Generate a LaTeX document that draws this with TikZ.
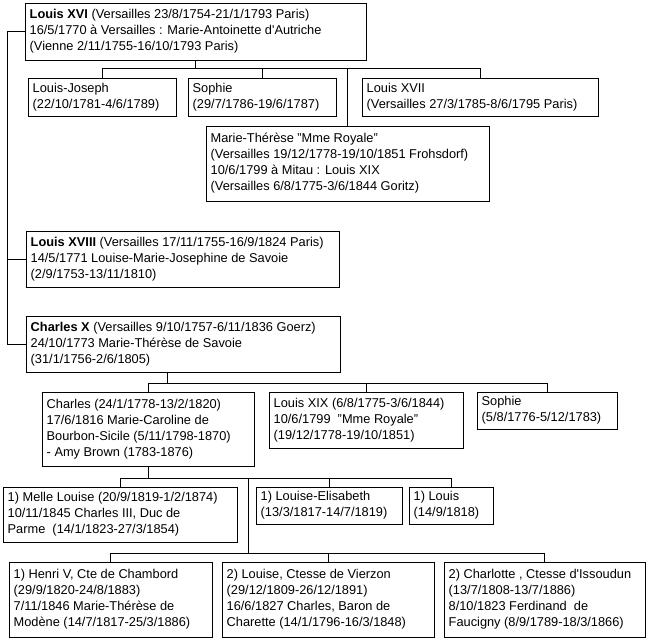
\documentclass[tikz,border=0pt]{standalone}
\usepackage{fontspec}
\setmainfont{Liberation Sans}
\newcommand\fambox[6]{%
  \node[pbox, anchor=north west, minimum width={(#4-#2)*1pt}, minimum height={(#5-#3)*1pt}] (#1) at (#2,#3) {};
  \node[ptext, anchor=west] (#1t) at ([xshift=4.5pt]#1.west) {#6};%
}
\begin{document}
\begin{tikzpicture}[x=1pt,y=-1pt,
  pbox/.style={draw, line width=1pt, rectangle, inner sep=0pt, outer sep=0pt},
  ptext/.style={inner sep=0pt, align=left, font=\fontsize{12.8}{16}\selectfont},
  conn/.style={line width=1pt}]
\path[fill=white, use as bounding box] (0,0) rectangle (650,640);

\fambox{L16}{25}{3}{366}{60}{\textbf{Louis XVI} (Versailles 23/8/1754-21/1/1793 Paris)\\16/5/1770 à Versailles : Marie-Antoinette d\textquotesingle Autriche\\(Vienne 2/11/1755-16/10/1793 Paris)}
\fambox{LJ}{28}{78}{176}{116}{Louis-Joseph\\(22/10/1781-4/6/1789)}
\fambox{SA}{188}{78}{336}{116}{Sophie\\(29/7/1786-19/6/1787)}
\fambox{L17}{362}{78}{598}{116}{Louis XVII\\(Versailles 27/3/1785-8/6/1795 Paris)}
\fambox{MT}{206}{126}{489}{201}{Marie-Thérèse "Mme Royale"\\(Versailles 19/12/1778-19/10/1851 Frohsdorf)\\10/6/1799 à Mitau : Louis XIX\\(Versailles 6/8/1775-3/6/1844 Goritz)}
\fambox{L18}{26}{231}{339}{287}{\textbf{Louis XVIII} (Versailles 17/11/1755-16/9/1824 Paris)\\14/5/1771 Louise-Marie-Josephine de Savoie\\(2/9/1753-13/11/1810)}
\fambox{C10}{26}{316}{340}{372}{\textbf{Charles X} (Versailles 9/10/1757-6/11/1836 Goerz)\\24/10/1773 Marie-Thérèse de Savoie\\(31/1/1756-2/6/1805)}
\fambox{CH}{42}{392}{254}{466}{Charles (24/1/1778-13/2/1820)\\17/6/1816 Marie-Caroline de\\Bourbon-Sicile (5/11/1798-1870)\\- Amy Brown (1783-1876)}
\fambox{L19}{269}{392}{463}{448}{Louis XIX (6/8/1775-3/6/1844)\\10/6/1799\ \ "Mme Royale"\\(19/12/1778-19/10/1851)}
\fambox{SB}{477}{392}{617}{429}{Sophie\\(5/8/1776-5/12/1783)}
\fambox{ML}{3}{487}{237}{542}{1) Melle Louise (20/9/1819-1/2/1874)\\10/11/1845 Charles III, Duc de\\Parme\ \ (14/1/1823-27/3/1854)}
\fambox{LE}{256}{487}{402}{524}{1) Louise-Elisabeth\\(13/3/1817-14/7/1819)}
\fambox{LO}{409}{487}{493}{524}{1) Louis\\(14/9/1818)}
\fambox{H5}{9}{562}{212}{637}{1) Henri V, Cte de Chambord\\(29/9/1820-24/8/1883)\\7/11/1846 Marie-Thérèse de\\Modène (14/7/1817-25/3/1886)}
\fambox{LV}{222}{562}{434}{637}{2) Louise, Ctesse de Vierzon\\(29/12/1809-26/12/1891)\\16/6/1827 Charles, Baron de\\Charette (14/1/1796-16/3/1848)}
\fambox{CI}{444}{562}{645}{637}{2) Charlotte , Ctesse d\textquotesingle Issoudun\\(13/7/1808-13/7/1886)\\8/10/1823 Ferdinand\ \ de\\Faucigny (8/9/1789-18/3/1866)}

% spine on the left
\coordinate (spine) at (7,0);
\draw[conn] (L16.west) -- (L16.west -| spine) -- (spine |- C10.west) -- (C10.west);
\draw[conn] (L18.west) -- (L18.west -| spine);

% children of Louis XVI
\coordinate (b1) at (0,68);
\draw[conn] (L16.south) -- (L16.south |- b1);
\draw[conn] (LJ.north) -- (LJ.north |- b1) -- (L17.north |- b1) -- (L17.north);
\draw[conn] (SA.north) -- (SA.north |- b1);
\draw[conn] (MT.north) -- (MT.north |- b1);

% children of Charles X
\coordinate (c10x) at (167,0);
\coordinate (b2) at (0,383);
\draw[conn] (C10.south -| c10x) -- (c10x |- b2);
\draw[conn] (CH.north) -- (CH.north |- b2) -- (SB.north |- b2) -- (SB.north);
\draw[conn] (L19.north) -- (L19.north |- b2);

% children of Charles
\coordinate (b3) at (0,478);
\coordinate (v4) at (248,0);
\coordinate (b4) at (0,553);
\draw[conn] (CH.south) -- (CH.south |- b3);
\draw[conn] (ML.north) -- (ML.north |- b3) -- (LO.north |- b3) -- (LO.north);
\draw[conn] (LE.north) -- (LE.north |- b3);
\draw[conn] (v4 |- b3) -- (v4 |- b4);
\draw[conn] (H5.north) -- (H5.north |- b4) -- (CI.north |- b4) -- (CI.north);
\draw[conn] (LV.north) -- (LV.north |- b4);
\end{tikzpicture}
\end{document}
